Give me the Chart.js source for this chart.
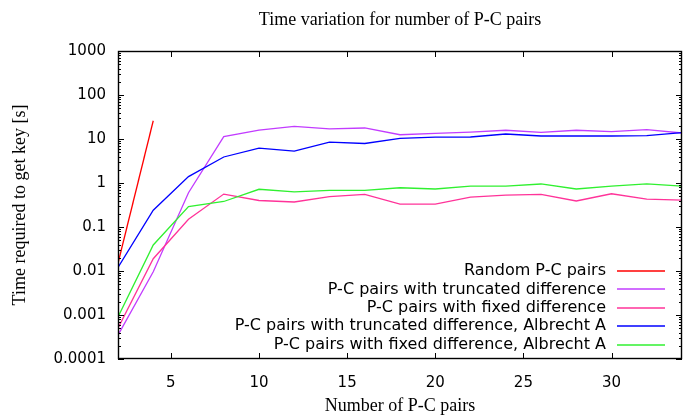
<!DOCTYPE html>
<html>
<head>
<meta charset="utf-8">
<script src="https://cdn.jsdelivr.net/npm/chart.js@4.4.1/dist/chart.umd.min.js"></script>
<style>
  html, body { margin: 0; padding: 0; background: #fff; }
</style>
</head>
<body>
<canvas id="chart" width="683" height="417"></canvas>
<script>
// number of P-C pairs (x) and time in seconds (y, log scale)
const pairs = [2, 4, 6, 8, 10, 12, 14, 16, 18, 20, 22, 24, 26, 28, 30, 32, 34];
const randomPairs = [2, 4];
const randomTime = [0.015, 26];
const truncTime = [0.00035, 0.0096, 0.6, 11.3, 16, 19.4, 17, 17.8, 12.5, 13.4, 14.4, 15.8, 14.2, 15.8, 14.7, 16.3, 13.7];
const fixedTime = [0.0005, 0.019, 0.15, 0.56, 0.4, 0.37, 0.49, 0.55, 0.33, 0.33, 0.48, 0.53, 0.55, 0.39, 0.57, 0.43, 0.41];
const truncAlbTime = [0.012, 0.24, 1.4, 3.9, 6.2, 5.3, 8.5, 7.9, 10.3, 11, 11.1, 13, 11.7, 11.7, 11.7, 11.9, 13.9];
const fixedAlbTime = [0.0009, 0.039, 0.29, 0.38, 0.72, 0.63, 0.68, 0.68, 0.78, 0.73, 0.85, 0.85, 0.95, 0.73, 0.85, 0.96, 0.85];

const xTicks = [5, 10, 15, 20, 25, 30];
const yTicks = [0.0001, 0.001, 0.01, 0.1, 1, 10, 100, 1000];
const yTickLabels = ["0.0001", "0.001", "0.01", "0.1", "1", "10", "100", "1000"];

const seriesNames = [
  "Random P-C pairs",
  "P-C pairs with truncated difference",
  "P-C pairs with fixed difference",
  "P-C pairs with truncated difference, Albrecht A",
  "P-C pairs with fixed difference, Albrecht A"
];
const seriesColors = ["#ff0000", "#c23cff", "#ff3399", "#0000ff", "#30f030"];

const tickFont = { family: "DejaVu Sans", size: 15 };
const keyFont = { family: "DejaVu Sans", size: 16 };
const serifFont = { family: "Liberation Serif", size: 18 };

function points(xs, ys) {
  return xs.map((x, i) => ({ x: x, y: ys[i] }));
}

// gnuplot-like frame with inward ticks on all sides, title and key
const frameTicks = {
  id: "frameTicks",
  afterDatasetsDraw(chart) {
    const { ctx, chartArea: a, scales: { x, y } } = chart;
    ctx.save();
    ctx.strokeStyle = "#000";
    ctx.lineWidth = 1;
    ctx.beginPath();
    xTicks.forEach(v => {
      const px = Math.round(x.getPixelForValue(v)) + 0.5;
      ctx.moveTo(px, a.bottom); ctx.lineTo(px, a.bottom - 6);
      ctx.moveTo(px, a.top); ctx.lineTo(px, a.top + 6);
    });
    yTicks.forEach((v, i) => {
      const py = Math.round(y.getPixelForValue(v)) + 0.5;
      ctx.moveTo(a.left, py); ctx.lineTo(a.left + 6, py);
      ctx.moveTo(a.right, py); ctx.lineTo(a.right - 6, py);
      if (i < yTicks.length - 1) {
        for (let k = 2; k < 10; k++) {
          const pm = Math.round(y.getPixelForValue(v * k)) + 0.5;
          ctx.moveTo(a.left, pm); ctx.lineTo(a.left + 3, pm);
          ctx.moveTo(a.right, pm); ctx.lineTo(a.right - 3, pm);
        }
      }
    });
    ctx.stroke();
    ctx.lineWidth = 1.4;
    ctx.strokeRect(a.left + 0.5, a.top + 0.5, a.right - a.left - 1, a.bottom - a.top - 1);
    ctx.restore();
  },
  afterDraw(chart) {
    const { ctx, chartArea: a } = chart;
    ctx.save();
    ctx.fillStyle = "#000";
    ctx.font = serifFont.size + "px " + serifFont.family;
    ctx.textAlign = "center";
    ctx.textBaseline = "middle";
    ctx.fillText("Time variation for number of P-C pairs", (a.left + a.right) / 2, 20);
    // key: text right-aligned, sample line after it
    ctx.font = keyFont.size + "px " + keyFont.family;
    ctx.textAlign = "right";
    const textRight = a.right - 76;
    const lineStart = a.right - 65;
    const lineEnd = a.right - 17;
    seriesNames.forEach((name, i) => {
      const ly = 271 + i * 18.4;
      ctx.fillStyle = "#000";
      ctx.fillText(name, textRight, ly);
      ctx.strokeStyle = seriesColors[i];
      ctx.lineWidth = 1.5;
      ctx.beginPath();
      ctx.moveTo(lineStart, Math.round(ly));
      ctx.lineTo(lineEnd, Math.round(ly));
      ctx.stroke();
    });
    ctx.restore();
  }
};

const series = [
  points(randomPairs, randomTime),
  points(pairs, truncTime),
  points(pairs, fixedTime),
  points(pairs, truncAlbTime),
  points(pairs, fixedAlbTime)
];

new Chart(document.getElementById("chart"), {
  type: "line",
  data: {
    datasets: series.map((d, i) => ({
      label: seriesNames[i],
      data: d,
      borderColor: seriesColors[i],
      borderWidth: 1.3,
      pointRadius: 0,
      tension: 0,
      fill: false,
      order: seriesNames.length - i
    }))
  },
  options: {
    responsive: false,
    animation: false,
    layout: { padding: { top: 51, right: 1 } },
    plugins: {
      legend: { display: false },
      title: { display: false },
      tooltip: { enabled: false }
    },
    scales: {
      x: {
        type: "linear",
        min: 2,
        max: 34,
        afterBuildTicks(scale) { scale.ticks = xTicks.map(v => ({ value: v })); },
        afterFit(scale) { scale.height = 58; },
        grid: { display: false, drawTicks: false },
        border: { display: false },
        ticks: { font: tickFont, color: "#000", padding: 15, maxRotation: 0 },
        title: { display: true, text: "Number of P-C pairs", font: serifFont, color: "#000", padding: { top: 0, bottom: 0 } }
      },
      y: {
        type: "logarithmic",
        min: 0.0001,
        max: 1000,
        afterBuildTicks(scale) { scale.ticks = yTicks.map(v => ({ value: v })); },
        afterFit(scale) { scale.width = 118; },
        grid: { display: false, drawTicks: false },
        border: { display: false },
        ticks: {
          font: tickFont,
          color: "#000",
          padding: 12,
          callback: (v) => yTickLabels[yTicks.indexOf(v)]
        },
        title: { display: true, text: "Time required to get key [s]", font: serifFont, color: "#000", padding: { top: 9, bottom: 0 } }
      }
    }
  },
  plugins: [frameTicks]
});
</script>
</body>
</html>
